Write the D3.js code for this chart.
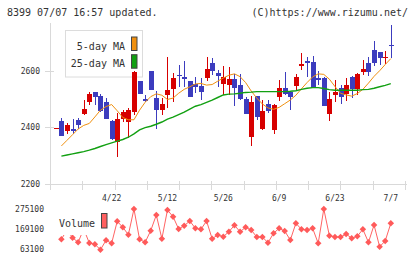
<!DOCTYPE html>
<html>
<head>
<meta charset="utf-8">
<script src="https://cdn.jsdelivr.net/npm/d3@7"></script>
<style>
  body { margin: 0; background: #fff; }
  text { font-family: "DejaVu Sans Mono", monospace; fill: #333; }
</style>
</head>
<body>
<svg id="chart"></svg>
<script>
////////////////// data ////////////////////
const dates = ["4/8","4/9","4/10","4/13","4/14","4/15","4/16","4/17","4/20","4/21",
  "4/22","4/23","4/24","4/27","4/28","4/30","5/1","5/7","5/8","5/11",
  "5/12","5/13","5/14","5/15","5/18","5/19","5/20","5/21","5/22","5/25",
  "5/26","5/27","5/28","5/29","6/1","6/2","6/3","6/4","6/5","6/8",
  "6/9","6/10","6/11","6/12","6/15","6/16","6/17","6/18","6/19","6/22",
  "6/23","6/24","6/25","6/26","6/29","6/30","7/1","7/2","7/3","7/6","7/7"];
const open = [2400,2424,2388,2395,2427,2450,2491,2525,2514,2491,
  2424,2349,2431,2419,2457,2566,2502,2601,2506,2463,
  2516,2537,2588,2580,2567,2555,2548,2577,2628,2595,
  2556,2551,2573,2551,2502,2368,2512,2395,2484,2392,
  2510,2540,2528,2548,2620,2637,2632,2575,2575,2448,
  2516,2540,2519,2580,2537,2599,2628,2676,2667,2648,2693];
const high = [2400,2435,2415,2430,2435,2498,2528,2526,2520,2506,
  2427,2451,2461,2470,2601,2566,2516,2601,2530,2504,
  2652,2593,2622,2638,2567,2579,2575,2652,2646,2605,
  2619,2614,2590,2590,2510,2512,2512,2498,2498,2484,
  2569,2596,2528,2590,2664,2650,2654,2601,2581,2525,
  2569,2551,2575,2583,2593,2640,2652,2708,2670,2672,2764];
const low = [2400,2370,2377,2377,2394,2445,2480,2480,2455,2430,
  2356,2297,2421,2363,2445,2518,2492,2534,2395,2445,
  2469,2492,2543,2545,2508,2524,2498,2567,2587,2545,
  2516,2516,2478,2498,2447,2335,2427,2392,2453,2377,
  2495,2516,2463,2534,2605,2581,2540,2551,2478,2423,
  2490,2484,2495,2506,2516,2587,2583,2620,2622,2626,2646];
const close = [2400,2371,2408,2389,2410,2466,2519,2510,2460,2432,
  2360,2431,2457,2463,2599,2519,2496,2534,2463,2484,
  2534,2577,2583,2573,2508,2545,2528,2607,2602,2584,
  2579,2573,2542,2502,2448,2490,2439,2459,2459,2480,
  2540,2519,2510,2581,2627,2631,2540,2570,2478,2502,
  2528,2510,2551,2537,2590,2608,2596,2630,2648,2652,2691];
const ma5 = [null,2335,2355,2375,2395,2408,2415,2438,2462,2475,
  2482,2460,2436,2428,2428,2462,2490,2510,2520,2515,
  2500,2505,2522,2536,2545,2555,2557,2551,2553,2565,
  2576,2586,2591,2581,2560,2530,2505,2484,2470,2465,
  2472,2485,2498,2515,2538,2560,2580,2591,2589,2572,
  2546,2522,2516,2512,2521,2536,2558,2582,2602,2624,2645];
const ma25 = [null,2299,2303,2307,2311,2315,2320,2326,2333,2340,
  2346,2352,2358,2366,2378,2392,2400,2405,2412,2420,
  2430,2437,2446,2455,2466,2476,2482,2490,2498,2507,
  2516,2519,2520,2522,2525,2526,2528,2528,2528,2528,
  2528,2528,2529,2531,2536,2540,2542,2542,2539,2535,
  2533,2533,2533,2533,2533,2535,2536,2540,2545,2550,2556];
const volume = [null,114500,163800,123000,98600,169100,94900,88000,59400,109200,
  93300,209900,178100,138900,275100,114500,98600,160100,243300,117700,
  269800,234300,169100,186600,211500,172800,167500,211500,117700,137300,
  128300,154800,188700,154800,178100,163800,126700,126700,96500,146300,
  172800,158500,110800,199300,167500,163800,172800,93300,275100,133600,
  126700,126700,142600,119800,130400,167500,98600,190300,75300,105500,199300];
const dateLabels = ["4/22","5/12","5/26","6/9","6/23","7/7"];
const priceTicks = [2200, 2400, 2600];
const volumeTicks = [63100, 169100, 275100];
const maNames = ["5-day MA", "25-day MA"];

////////////////// setup ////////////////////
const width = 420, height = 259;
const svg = d3.select("#chart")
    .attr("width", width)
    .attr("height", height);

const x = d3.scalePoint()
    .domain(dates)
    .range([55.8, 390.8]);
const y = d3.scaleLinear()
    .domain([2200, 2600])
    .range([184, 71.3]);
const yVol = d3.scaleLinear()
    .domain([63100, 275100])
    .range([249, 209]);
// plain tick marks along the bottom axis (not tied to dates)
const xGrid = d3.scaleLinear()
    .domain([0, 11])
    .range([50.7, 405.3]);

const gridColor = "#d9d9d9";
const upColor = "#d70000";
const downColor = "#3c3cbe";

// header texts
svg.append("text")
    .attr("x", 7).attr("y", 16)
    .attr("font-size", 10)
    .text("8399 07/07 16:57 updated.");
svg.append("text")
    .attr("x", 408).attr("y", 16)
    .attr("text-anchor", "end")
    .attr("font-size", 10)
    .text("(C)https://www.rizumu.net/");

////////////////// axes ////////////////////
const axes = svg.append("g")
    .attr("stroke", gridColor)
    .attr("shape-rendering", "crispEdges");
axes.append("line")
    .attr("x1", 50.7).attr("x2", 50.7)
    .attr("y1", 23).attr("y2", 190);
axes.append("line")
    .attr("x1", 45).attr("x2", 407)
    .attr("y1", y(2200)).attr("y2", y(2200));
axes.selectAll(".ytick")
    .data(priceTicks)
    .enter()
    .append("line")
    .attr("x1", 45).attr("x2", 54)
    .attr("y1", d => y(d)).attr("y2", d => y(d));
axes.selectAll(".xtick")
    .data(d3.range(12))
    .enter()
    .append("line")
    .attr("x1", d => xGrid(d)).attr("x2", d => xGrid(d))
    .attr("y1", 181).attr("y2", 190);

svg.selectAll(".ylabel")
    .data(priceTicks)
    .enter()
    .append("text")
    .attr("x", 40)
    .attr("y", d => y(d))
    .attr("dy", "0.35em")
    .attr("text-anchor", "end")
    .attr("font-size", 8)
    .text(d => d);

svg.selectAll(".xlabel")
    .data(dateLabels)
    .enter()
    .append("text")
    .attr("x", d => x(d))
    .attr("y", 200.7)
    .attr("text-anchor", "middle")
    .attr("font-size", 8)
    .text(d => d);

svg.selectAll(".vlabel")
    .data(volumeTicks)
    .enter()
    .append("text")
    .attr("x", 44)
    .attr("y", d => yVol(d))
    .attr("dy", "0.35em")
    .attr("text-anchor", "end")
    .attr("font-size", 8)
    .text(d => d);

////////////////// MA legend ////////////////////
const legend = svg.append("g");
legend.append("rect")
    .attr("x", 65.5).attr("y", 30.5)
    .attr("width", 77).attr("height", 46.5)
    .attr("fill", "#fff")
    .attr("stroke", "#dcdcdc");
const maColors = ["#f0900f", "#12a012"];
maNames.forEach((name, i) => {
    legend.append("text")
        .attr("x", 125).attr("y", 49.5 + i * 17.5)
        .attr("text-anchor", "end")
        .attr("font-size", 10)
        .text(name);
    legend.append("rect")
        .attr("x", 131.5).attr("y", 37 + i * 17.7)
        .attr("width", 5.5).attr("height", 13.5)
        .attr("fill", maColors[i])
        .attr("stroke", "#444");
});

////////////////// candles ////////////////////
const candles = svg.append("g")
    .attr("shape-rendering", "crispEdges");
const idx = d3.range(dates.length);
const colorOf = i => close[i] >= open[i] ? upColor : downColor;
candles.selectAll(".wick")
    .data(idx)
    .enter()
    .append("line")
    .attr("x1", i => Math.round(x(dates[i])) + 0.5)
    .attr("x2", i => Math.round(x(dates[i])) + 0.5)
    .attr("y1", i => y(high[i]))
    .attr("y2", i => y(low[i]))
    .attr("stroke", colorOf);
candles.selectAll(".body")
    .data(idx)
    .enter()
    .append("rect")
    .attr("x", i => Math.round(x(dates[i])) - 2)
    .attr("width", 5)
    .attr("y", i => y(Math.max(open[i], close[i])))
    .attr("height", i => Math.max(1, y(Math.min(open[i], close[i])) - y(Math.max(open[i], close[i]))))
    .attr("fill", colorOf);

////////////////// MA lines ////////////////////
[ma5, ma25].forEach((arr, k) => {
    const line = d3.line()
        .defined(d => d !== null)
        .x((d, i) => x(dates[i]))
        .y(d => y(d));
    svg.append("path")
        .attr("d", line(arr))
        .attr("fill", "none")
        .attr("stroke", maColors[k])
        .attr("stroke-width", k === 0 ? 1 : 1.4);
});

////////////////// volume ////////////////////
const volLine = d3.line()
    .defined(d => d !== null)
    .x((d, i) => x(dates[i]))
    .y(d => yVol(d));
svg.append("path")
    .attr("d", volLine(volume))
    .attr("fill", "none")
    .attr("stroke", "#ff6464")
    .attr("stroke-width", 1);
svg.selectAll(".vmark")
    .data(idx.filter(i => volume[i] !== null))
    .enter()
    .append("rect")
    .attr("x", -2.3).attr("y", -2.3)
    .attr("width", 4.6).attr("height", 4.6)
    .attr("transform", i => `translate(${x(dates[i])},${yVol(volume[i])}) rotate(45)`)
    .attr("fill", "#ff5a5a");

// volume legend sits on top of the markers
svg.append("rect")
    .attr("x", 55).attr("y", 204)
    .attr("width", 57).attr("height", 31)
    .attr("fill", "#fff");
svg.append("text")
    .attr("x", 59).attr("y", 226.5)
    .attr("font-size", 10)
    .text("Volume");
svg.append("rect")
    .attr("x", 101.5).attr("y", 213.5)
    .attr("width", 5.5).attr("height", 14.5)
    .attr("fill", "#ff6060")
    .attr("stroke", "#444");
</script>
</body>
</html>
